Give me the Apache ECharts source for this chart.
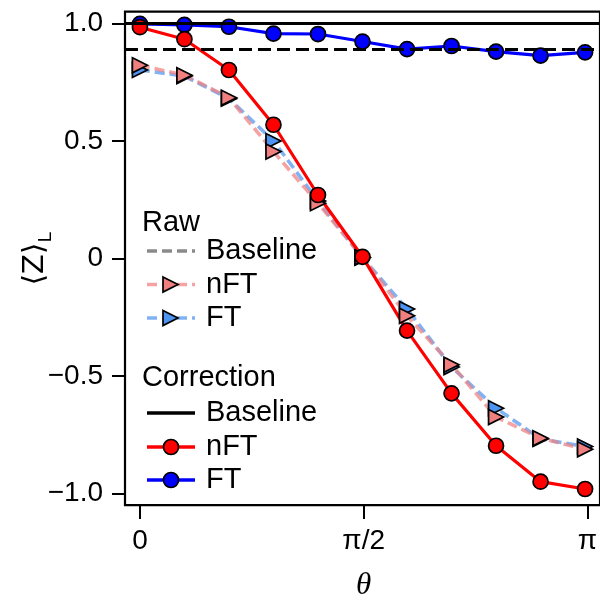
<!DOCTYPE html>
<html>
<head>
<meta charset="utf-8">
<script src="https://cdn.jsdelivr.net/npm/echarts@6/dist/echarts.min.js"></script>
<style>
  html, body { margin: 0; padding: 0; background: #fff; }
  #chart { width: 600px; height: 606px; }
</style>
</head>
<body>
<div id="chart"></div>
<script>
// θ in units of π
const thetaOverPi = [0, 0.1, 0.2, 0.3, 0.4, 0.5, 0.6, 0.7, 0.8, 0.9, 1.0];

// Raw measurements
const rawBaseline = 0.887;
const rawNFT = [0.822, 0.780, 0.684, 0.455, 0.235, 0.005, -0.244, -0.452, -0.675, -0.765, -0.812];
const rawFT  = [0.802, 0.776, 0.680, 0.500, 0.245, 0.003, -0.215, -0.462, -0.637, -0.768, -0.800];

// Corrected values
const corrBaseline = 1.0;
const corrNFT = [0.984, 0.933, 0.802, 0.569, 0.270, 0.007, -0.307, -0.574, -0.797, -0.950, -0.981];
const corrFT  = [0.998, 0.994, 0.986, 0.957, 0.955, 0.923, 0.891, 0.904, 0.880, 0.863, 0.877];

// Axis ticks
const yTicks = [-1, -0.5, 0, 0.5, 1];
const yTickLabels = ['\u22121.0', '\u22120.5', '0', '0.5', '1.0'];
const xTicks = [0, 0.5, 1];
const xTickLabels = ['0', '\u03c0/2', '\u03c0'];

const FONT = '"Liberation Sans", Arial, Helvetica, sans-serif';
const FS = 28;
const LEGEND_FS = 29;

const pairs = ys => thetaOverPi.map((t, i) => [t, ys[i]]);
const triangle = 'path://M0,0L10,5L0,10Z';

const chart = echarts.init(document.getElementById('chart'), null, { renderer: 'canvas' });

const XMIN = -0.0335, XMAX = 1.0335;
const GRID_L = 125, GRID_T = 11.7, GRID_W = 477.7, GRID_H = 493.5;
const PX_PER_UNIT = GRID_H / 2.1;

const RAW_NFT_LINE = 'rgba(240,128,128,0.72)';
const RAW_FT_LINE = 'rgba(80,150,240,0.72)';

// Legend rows
const legendRows = [
  { kind: 'head', text: 'Raw', y: 223 },
  { kind: 'item', text: 'Baseline', y: 251, color: '#8a8a8a', dash: [10, 5], symbol: null },
  { kind: 'item', text: 'nFT', y: 284.5, color: RAW_NFT_LINE, dash: [10, 5], symbol: 'tri', fill: '#F08080' },
  { kind: 'item', text: 'FT', y: 318, color: RAW_FT_LINE, dash: [10, 5], symbol: 'tri', fill: '#4D94F0' },
  { kind: 'head', text: 'Correction', y: 378 },
  { kind: 'item', text: 'Baseline', y: 413, color: '#000', dash: null, symbol: null },
  { kind: 'item', text: 'nFT', y: 447, color: '#FF0000', dash: null, symbol: 'circle', fill: '#FF0000' },
  { kind: 'item', text: 'FT', y: 480, color: '#0000FF', dash: null, symbol: 'circle', fill: '#0000FF' }
];

const legendGraphics = [];
legendRows.forEach(r => {
  if (r.kind === 'head') {
    legendGraphics.push({
      type: 'text', x: 142, y: r.y,
      style: { text: r.text, font: LEGEND_FS + 'px ' + FONT, fill: '#000', verticalAlign: 'middle' }
    });
    return;
  }
  legendGraphics.push({
    type: 'line', shape: { x1: 147, y1: r.y, x2: 195, y2: r.y },
    style: { stroke: r.color, lineWidth: 3.4, lineDash: r.dash || null }
  });
  if (r.symbol === 'tri') {
    legendGraphics.push({
      type: 'polygon', shape: { points: [[163, r.y - 7.5], [178, r.y], [163, r.y + 7.5]] },
      style: { fill: r.fill, stroke: '#000', lineWidth: 1.7 }
    });
  } else if (r.symbol === 'circle') {
    legendGraphics.push({
      type: 'circle', shape: { cx: 171, cy: r.y, r: 7.5 },
      style: { fill: r.fill, stroke: '#000', lineWidth: 1.7 }
    });
  }
  legendGraphics.push({
    type: 'text', x: 206, y: r.y,
    style: { text: r.text, font: LEGEND_FS + 'px ' + FONT, fill: '#000', verticalAlign: 'middle' }
  });
});

// y-axis title ⟨Z⟩_L, rotated
const yTitle = [
  {
    type: 'text', x: 35, y: 264, rotation: Math.PI / 2,
    style: { text: '\u27e8Z\u27e9', font: '29px "DejaVu Sans", ' + FONT, fill: '#000', align: 'center', verticalAlign: 'middle' }
  },
  {
    type: 'text', x: 46, y: 237, rotation: Math.PI / 2,
    style: { text: 'L', font: '19px ' + FONT, fill: '#000', align: 'center', verticalAlign: 'middle' }
  }
];

const tickStyle = { color: '#000', width: 2 };

const option = {
  animation: false,
  backgroundColor: '#fff',
  grid: [
    // data area, framed
    { left: GRID_L, top: GRID_T, width: GRID_W, height: GRID_H, show: true, borderColor: '#000', borderWidth: 2.2, backgroundColor: 'transparent' },
    // y tick axis, spanning -1..1
    { left: GRID_L, top: GRID_T + 0.05 * PX_PER_UNIT, width: 10, height: 2 * PX_PER_UNIT },
    // x tick axis, spanning 0..π
    { left: GRID_L + (0 - XMIN) / (XMAX - XMIN) * GRID_W, width: GRID_W / (XMAX - XMIN), top: GRID_T, height: GRID_H }
  ],
  xAxis: [
    { gridIndex: 0, type: 'value', min: XMIN, max: XMAX, show: false },
    { gridIndex: 1, type: 'value', min: 0, max: 1, show: false },
    {
      gridIndex: 2, type: 'value', min: 0, max: 1, interval: 0.5, position: 'bottom',
      axisLine: { show: false },
      axisTick: { show: true, length: 14, lineStyle: tickStyle },
      splitLine: { show: false },
      axisLabel: {
        margin: 22, color: '#000', fontSize: FS, fontFamily: FONT,
        formatter: v => xTickLabels[xTicks.indexOf(Math.round(v * 10) / 10)] ?? ''
      },
      name: '\u03b8', nameLocation: 'middle', nameGap: 65,
      nameTextStyle: { fontFamily: '"Liberation Serif", "DejaVu Serif", serif', fontStyle: 'italic', fontSize: 31, color: '#000' }
    }
  ],
  yAxis: [
    { gridIndex: 0, type: 'value', min: -1.05, max: 1.05, show: false },
    {
      gridIndex: 1, type: 'value', min: -1, max: 1, interval: 0.5, position: 'left',
      axisLine: { show: false },
      axisTick: { show: true, length: 13, lineStyle: tickStyle },
      splitLine: { show: false },
      axisLabel: {
        margin: 22, color: '#000', fontSize: FS, fontFamily: FONT,
        formatter: v => yTickLabels[yTicks.indexOf(Math.round(v * 10) / 10)] ?? ''
      }
    },
    { gridIndex: 2, type: 'value', min: 0, max: 1, show: false }
  ],
  graphic: legendGraphics.concat(yTitle),
  series: [
    {
      name: 'Raw Baseline', type: 'line', xAxisIndex: 0, yAxisIndex: 0, data: [],
      markLine: {
        silent: true, symbol: 'none', label: { show: false },
        lineStyle: { color: '#000', width: 3, type: [13, 6] },
        data: [{ yAxis: rawBaseline }]
      }
    },
    {
      name: 'Correction Baseline', type: 'line', xAxisIndex: 0, yAxisIndex: 0, data: [],
      markLine: {
        silent: true, symbol: 'none', label: { show: false },
        lineStyle: { color: '#000', width: 3, type: 'solid' },
        data: [{ yAxis: corrBaseline }]
      }
    },
    {
      name: 'Raw FT', type: 'line', xAxisIndex: 0, yAxisIndex: 0, data: pairs(rawFT),
      lineStyle: { color: RAW_FT_LINE, width: 3.6, type: [10, 5] },
      symbol: triangle, symbolSize: 15, showAllSymbol: true,
      itemStyle: { color: '#4D94F0', borderColor: '#000', borderWidth: 1.7 }
    },
    {
      name: 'Raw nFT', type: 'line', xAxisIndex: 0, yAxisIndex: 0, data: pairs(rawNFT),
      lineStyle: { color: RAW_NFT_LINE, width: 3.6, type: [10, 5] },
      symbol: triangle, symbolSize: 15, showAllSymbol: true,
      itemStyle: { color: '#F08080', borderColor: '#000', borderWidth: 1.7 }
    },
    {
      name: 'Correction FT', type: 'line', xAxisIndex: 0, yAxisIndex: 0, data: pairs(corrFT),
      lineStyle: { color: '#0000FF', width: 3.2 },
      symbol: 'circle', symbolSize: 15, showAllSymbol: true,
      itemStyle: { color: '#0000FF', borderColor: '#000', borderWidth: 1.7 }
    },
    {
      name: 'Correction nFT', type: 'line', xAxisIndex: 0, yAxisIndex: 0, data: pairs(corrNFT),
      lineStyle: { color: '#FF0000', width: 3.2 },
      symbol: 'circle', symbolSize: 15, showAllSymbol: true,
      itemStyle: { color: '#FF0000', borderColor: '#000', borderWidth: 1.7 }
    }
  ]
};

chart.setOption(option);
</script>
</body>
</html>
